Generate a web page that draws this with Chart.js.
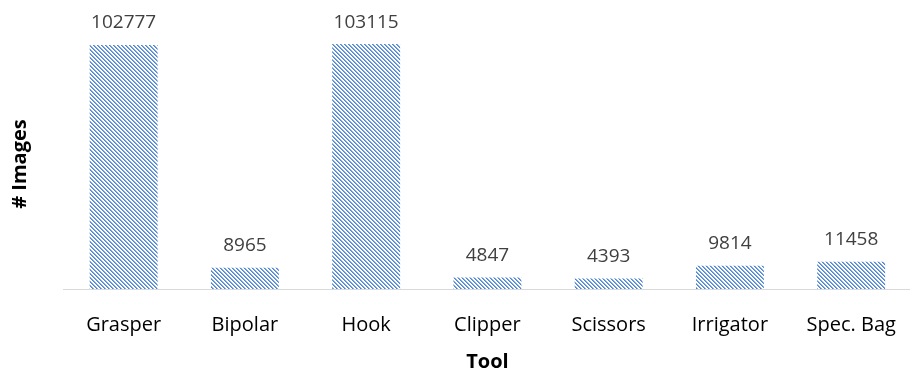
<!DOCTYPE html>
<html>
<head>
<meta charset="utf-8">
<script src="https://cdn.jsdelivr.net/npm/chart.js@4/dist/chart.umd.min.js"></script>
<style>
  html, body { margin: 0; padding: 0; background: #fff; overflow: hidden; }
  #wrap { width: 920px; height: 374px; }
</style>
</head>
<body>
<div id="wrap"><canvas id="chart"></canvas></div>
<script>
// データ
const tools = ['Grasper', 'Bipolar', 'Hook', 'Clipper', 'Scissors', 'Irrigator', 'Spec. Bag'];
const imageCounts = [102777, 8965, 103115, 4847, 4393, 9814, 11458];
const yTitle = '# Images';
const xTitle = 'Tool';

// 斜線パターン（ピクセル単位で描く）
function makeHatch() {
  const c = document.createElement('canvas');
  c.width = 4; c.height = 4;
  const g = c.getContext('2d');
  g.fillStyle = '#ffffff';
  g.fillRect(0, 0, 4, 4);
  for (let y = 0; y < 4; y++) {
    for (let x = 0; x < 4; x++) {
      const d = ((x - y) % 4 + 4) % 4;
      if (d === 0) { g.fillStyle = '#4f84d0'; g.fillRect(x, y, 1, 1); }
      if (d === 1) { g.fillStyle = '#86abe2'; g.fillRect(x, y, 1, 1); }
    }
  }
  return g.createPattern(c, 'repeat');
}

// バーの上に数値、軸タイトル
const extraText = {
  id: 'extraText',
  afterDatasetsDraw(chart) {
    const ctx = chart.ctx;
    const meta = chart.getDatasetMeta(0);
    const area = chart.chartArea;
    ctx.save();
    ctx.font = '19px "Open Sans", sans-serif';
    ctx.fillStyle = '#404040';
    ctx.textAlign = 'center';
    ctx.textBaseline = 'middle';
    meta.data.forEach(function (bar, i) {
      ctx.fillText(String(imageCounts[i]), bar.x, bar.y - 22);
    });
    // X軸タイトル
    ctx.font = 'bold 20px "Open Sans", sans-serif';
    ctx.fillStyle = '#000';
    ctx.fillText(xTitle, (area.left + area.right) / 2, area.bottom + 73);
    // Y軸タイトル
    ctx.translate(20, 164);
    ctx.rotate(-Math.PI / 2);
    ctx.fillText(yTitle, 0, 0);
    ctx.restore();
  }
};

const ctx = document.getElementById('chart').getContext('2d');
new Chart(ctx, {
  type: 'bar',
  data: {
    labels: tools,
    datasets: [{
      data: imageCounts,
      backgroundColor: makeHatch(),
      borderWidth: 0,
      categoryPercentage: 1,
      barPercentage: 0.56
    }]
  },
  options: {
    responsive: true,
    maintainAspectRatio: false,
    animation: false,
    layout: { padding: { top: 4, right: 2, left: 63, bottom: 13 } },
    plugins: {
      legend: { display: false },
      tooltip: { enabled: false }
    },
    scales: {
      x: {
        grid: { display: false, drawTicks: false },
        border: { color: '#d9d9d9', width: 1 },
        ticks: { color: '#000', font: { family: '"Open Sans", sans-serif', size: 20 }, padding: 24 }
      },
      y: {
        display: false,
        min: 0,
        max: 120000
      }
    }
  },
  plugins: [extraText]
});
</script>
</body>
</html>
